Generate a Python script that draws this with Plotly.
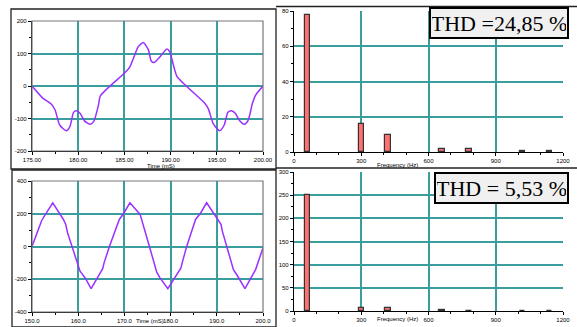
import plotly.graph_objects as go

# ---------- data ----------
# top-left: distorted current waveform (175-200 ms)
t1 = [175.0, 176.2, 177.1, 177.5, 178.0, 178.7, 179.1, 179.5, 179.8, 180.2, 180.7, 181.3, 181.7,
      182.2, 182.4, 185.1, 185.6, 186.0, 186.5, 187.05, 187.6, 187.9, 188.2, 188.85, 189.6, 189.9,
      190.3, 190.7, 193.7, 194.1, 194.6, 195.3, 195.8, 196.2, 196.6, 197.0, 197.5, 198.0, 198.4,
      198.85, 199.2, 200.0]
v1 = [0, -38, -56, -74, -120, -138, -125, -81, -76, -84, -108, -118, -108,
      -58, -30, 42, 59, 87, 121, 134, 111, 77, 72, 90, 114, 106,
      65, 29, -53, -71, -115, -138, -120, -81, -76, -84, -108, -118, -105,
      -54, -28, 0]

# bottom-left: filtered current waveform (150-200 ms)
t2 = [150.0, 152.1, 152.8, 154.5, 156.8, 157.3, 157.7, 160.4, 161.5, 162.8, 165.3, 165.6, 166.7,
      168.9, 169.8, 171.2, 173.4, 173.7, 175.4, 177.0, 177.7, 179.4, 182.25, 182.5, 183.5, 185.4,
      186.4, 187.8, 190.3, 190.9, 191.2, 193.6, 194.3, 196.1, 198.4, 198.8, 200.0]
v2 = [0, 159, 192, 267, 165, 135, 84, -151, -192, -257, -135, -100, -4,
      165, 200, 267, 196, 165, 2, -157, -192, -257, -131, -100, 2, 165,
      200, 267, 155, 135, 94, -141, -171, -257, -141, -110, -8]

# harmonic spectra
freq = [60, 300, 420, 660, 780, 1020, 1140]
amp_top = [77.5, 16.0, 9.9, 1.9, 1.7, 0.8, 0.6]
amp_bot = [251, 7, 6, 1.2, 1.0, 0.8, 0.8]

thd_top = "THD =24,85 %"
thd_bot = "THD = 5,53 %"

# ---------- layout helpers ----------
W, H = 577, 327
def px(x): return x / W
def py(y): return 1 - y / H

GRID = "#3A9E9E"
CURVE = "#9B30FF"
TICKFONT = dict(family="Liberation Sans Narrow, Liberation Sans, Arial", size=6, color="black")

fig = go.Figure()

fig.add_trace(go.Scatter(x=t1, y=v1, mode="lines", line=dict(color=CURVE, width=1.5, shape="spline", smoothing=0.6),
                         xaxis="x", yaxis="y", showlegend=False))
fig.add_trace(go.Bar(x=freq, y=amp_top, width=24, marker=dict(color="#FF7070", line=dict(color="#333333", width=1.2)),
                     xaxis="x2", yaxis="y2", showlegend=False))
fig.add_trace(go.Scatter(x=t2, y=v2, mode="lines", line=dict(color=CURVE, width=1.5),
                         xaxis="x3", yaxis="y3", showlegend=False))
fig.add_trace(go.Bar(x=freq, y=amp_bot, width=24, marker=dict(color="#FF7070", line=dict(color="#333333", width=1.2)),
                     xaxis="x4", yaxis="y4", showlegend=False))

def xax(dom, rng, dtick, fmt, anchor, minor_dtick):
    return dict(domain=dom, range=rng, dtick=dtick, tick0=rng[0], tickformat=fmt, anchor=anchor,
                automargin=False,
                showgrid=True, gridcolor=GRID, gridwidth=1.5, zeroline=False,
                showline=True, linecolor="black", linewidth=1.2,
                ticks="outside", ticklen=3, tickcolor="black", tickfont=TICKFONT,
                minor=dict(dtick=minor_dtick, ticks="outside", ticklen=2, tickcolor="black", showgrid=False))

def yax(dom, rng, tickvals, ticktext, anchor, minor_dtick):
    return dict(domain=dom, range=rng, tickvals=tickvals, ticktext=ticktext, anchor=anchor,
                automargin=False,
                showgrid=True, gridcolor=GRID, gridwidth=1.5, zeroline=False,
                showline=True, linecolor="black", linewidth=1.2,
                ticks="outside", ticklen=3, tickcolor="black", tickfont=TICKFONT,
                minor=dict(dtick=minor_dtick, ticks="outside", ticklen=2, tickcolor="black", showgrid=False))

dx_left = [px(32), px(263)]
dx_right = [px(294), px(563)]
dy_tl = [py(151), py(21)]
dy_tr = [py(152), py(11)]
dy_bl = [py(312), py(181)]
dy_br = [py(311), py(172)]

fig.update_layout(
    width=W, height=H, margin=dict(l=0, r=0, t=0, b=0, autoexpand=False),
    paper_bgcolor="white", plot_bgcolor="white", bargap=0,
    xaxis=xax(dx_left, [175, 200], 5, ".2f", "y", 2.5),
    yaxis=yax(dy_tl, [-200, 200], [-200, -100, 0, 100, 200], ["-200", "-100", "0", "100", "200"], "x", 50),
    xaxis2=xax(dx_right, [0, 1200], 300, "d", "y2", 100),
    yaxis2=yax(dy_tr, [0, 80], [0, 20, 40, 60, 80], ["0", "20", "40", "60", "80"], "x2", 10),
    xaxis3=xax(dx_left, [150, 200], 10, ".1f", "y3", 5),
    yaxis3=yax(dy_bl, [-400, 400], [-400, -200, 0, 200, 400], ["-400", "-200", "0", "200", "400"], "x3", 100),
    xaxis4=xax(dx_right, [0, 1200], 300, "d", "y4", 100),
    yaxis4=yax(dy_br, [0, 300], [0, 50, 100, 150, 200, 250, 300], ["0", "50", "100", "150", "200", "250", "300"], "x4", 25),
)

shapes = []
# gray plot borders (top/right) for left panels
for xr, yr in [("x", "y"), ("x3", "y3")]:
    shapes.append(dict(type="rect", xref=f"{xr} domain", yref=f"{yr} domain", x0=0, x1=1, y0=0, y1=1,
                       line=dict(color="#777777", width=1.2), layer="above"))
# panel boxes
shapes.append(dict(type="rect", xref="paper", yref="paper", x0=px(11), x1=px(276), y0=py(169), y1=py(9),
                   line=dict(color="#222222", width=1.3)))
shapes.append(dict(type="rect", xref="paper", yref="paper", x0=px(12), x1=px(276), y0=py(327), y1=py(170),
                   line=dict(color="#222222", width=1.3)))
shapes.append(dict(type="line", xref="paper", yref="paper", x0=px(276), x1=1, y0=py(6.5), y1=py(6.5),
                   line=dict(color="#222222", width=1.3)))
shapes.append(dict(type="line", xref="paper", yref="paper", x0=px(276), x1=1, y0=py(168), y1=py(168),
                   line=dict(color="#222222", width=1.3)))
fig.update_layout(shapes=shapes)

LBL = dict(family="Liberation Sans Narrow, Liberation Sans, Arial", size=6, color="black")
ann = [
    dict(text="Time (mS)", x=px(145), y=py(166), xref="paper", yref="paper", showarrow=False, font=LBL),
    dict(text="Frequency (Hz)", x=px(420), y=py(165), xref="paper", yref="paper", showarrow=False, font=LBL),
    dict(text="Time (mS)", x=px(134), y=py(325.5), xref="paper", yref="paper", showarrow=False, font=LBL),
    dict(text="Frequency (Hz)", x=px(420), y=py(324), xref="paper", yref="paper", showarrow=False, font=LBL),
    dict(text=thd_top, x=px(429), y=py(7), xref="paper", yref="paper", xanchor="left", yanchor="top",
         showarrow=False, width=134, height=26, bgcolor="#F0F0F0", bordercolor="black", borderwidth=2,
         font=dict(family="Liberation Serif, Times New Roman, serif", size=22, color="black")),
    dict(text=thd_bot, x=px(434), y=py(172), xref="paper", yref="paper", xanchor="left", yanchor="top",
         showarrow=False, width=129, height=26, bgcolor="#F0F0F0", bordercolor="black", borderwidth=2,
         font=dict(family="Liberation Serif, Times New Roman, serif", size=22, color="black")),
]
fig.update_layout(annotations=ann)

fig.write_html("out.html")
